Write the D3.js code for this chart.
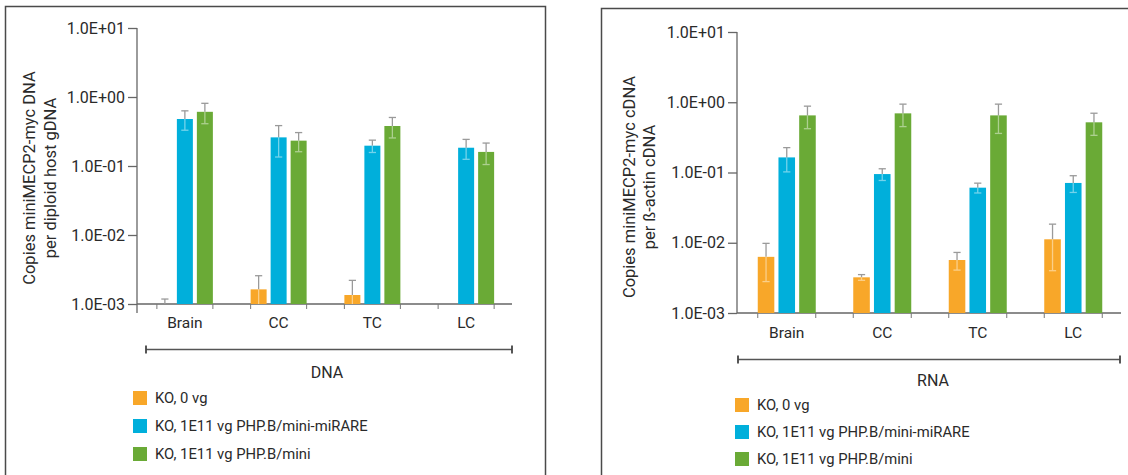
<!DOCTYPE html>
<html>
<head>
<meta charset="utf-8">
<script src="https://cdn.jsdelivr.net/npm/d3@7"></script>
<style>
  body { margin: 0; background: #fff; }
  svg { display: block; font-family: Roboto, "Open Sans", sans-serif; }
</style>
</head>
<body>
<svg width="1128" height="475"></svg>
<script>
const categories = ["Brain", "CC", "TC", "LC"];
const seriesNames = ["KO, 0 vg", "KO, 1E11 vg PHP.B/mini-miRARE", "KO, 1E11 vg PHP.B/mini"];
const seriesColors = ["#f8a729", "#00afdb", "#6aaa36"];
const yTicks = [1e-3, 1e-2, 1e-1, 1e0, 1e1];
const yTickLabels = ["1.0E-03", "1.0E-02", "1.0E-01", "1.0E+00", "1.0E+01"];

// DNA panel (mean, sd) - null = no bar
const dnaKO = [0.0007, 0.00163, 0.00135, null];
const dnaKOsd = [0.00048, 0.00094, 0.00085, null];
const dnaMiRARE = [0.48, 0.26, 0.197, 0.184];
const dnaMiRAREsd = [0.15, 0.125, 0.04, 0.059];
const dnaMini = [0.61, 0.233, 0.38, 0.16];
const dnaMinisd = [0.2, 0.072, 0.125, 0.055];

// RNA panel
const rnaKO = [0.0063, 0.00322, 0.00568, 0.0112];
const rnaKOsd = [0.0035, 0.0003, 0.0016, 0.0072];
const rnaMiRARE = [0.164, 0.095, 0.0608, 0.071];
const rnaMiRAREsd = [0.062, 0.018, 0.0097, 0.019];
const rnaMini = [0.65, 0.695, 0.65, 0.518];
const rnaMinisd = [0.23, 0.245, 0.29, 0.18];

const svg = d3.select("svg");
const textCol = "#2a2a2a";

const panels = [
  {
    box: [5.5, 6.5], yAxisX: 137, yRange: [304, 28], xRange: [138, 513], axisEnd: 512,
    groupW: 56, axisExtend: 9, catY: 328,
    title: ["Copies miniMECP2-myc DNA", "per diploid host gDNA"], titleX: [29, 50], titleY: 178,
    bracket: [146, 512, 349.5], groupLabel: "DNA", groupLabelPos: [327, 378],
    legend: [133, 398, 28],
    values: [dnaKO, dnaMiRARE, dnaMini], sds: [dnaKOsd, dnaMiRAREsd, dnaMinisd]
  },
  {
    box: [601.5, 8.5], yAxisX: 737, yRange: [313, 32], xRange: [739, 1121], axisEnd: 1121,
    groupW: 58, axisExtend: 0, catY: 338,
    title: ["Copies miniMECP2-myc cDNA", "per ß-actin cDNA"], titleX: [629, 649], titleY: 187,
    bracket: [738, 1120, 359.5], groupLabel: "RNA", groupLabelPos: [933, 386],
    legend: [735, 405, 27],
    values: [rnaKO, rnaMiRARE, rnaMini], sds: [rnaKOsd, rnaMiRAREsd, rnaMinisd]
  }
];

panels.forEach(drawPanel);

function drawPanel(p) {
  const g = svg.append("g");

  // frame (open at the bottom, runs off the picture)
  g.append("rect")
    .attr("x", p.box[0]).attr("y", p.box[1])
    .attr("width", 540).attr("height", 520)
    .attr("fill", "none").attr("stroke", "#4a4a4a").attr("stroke-width", 1.5);

  const y = d3.scaleLog().domain([1e-3, 1e1]).range(p.yRange);
  const x = d3.scaleBand().domain(categories).range(p.xRange);
  const xs = d3.scaleBand().domain(d3.range(3)).range([0, p.groupW]).paddingInner(0.2);
  const base = y(1e-3);
  const groupLeft = c => x(c) + (x.bandwidth() - p.groupW) / 2;

  // y axis
  const yAxis = d3.axisLeft(y)
    .tickValues(yTicks)
    .tickFormat((d, i) => yTickLabels[i])
    .tickSize(9).tickPadding(3).tickSizeOuter(0);
  const ya = g.append("g").attr("transform", `translate(${p.yAxisX},0)`).call(yAxis);
  ya.select(".domain").remove();
  ya.selectAll(".tick line").attr("stroke", "#666").attr("stroke-width", 1.3);
  ya.selectAll(".tick text").attr("fill", textCol).attr("font-size", 16)
    .attr("font-family", "Roboto, sans-serif");
  g.append("line")
    .attr("x1", p.yAxisX).attr("x2", p.yAxisX)
    .attr("y1", p.yRange[1]).attr("y2", base + p.axisExtend)
    .attr("stroke", "#666").attr("stroke-width", 1.3);

  // x axis line and group edge ticks
  g.append("line")
    .attr("x1", p.yAxisX).attr("x2", p.axisEnd)
    .attr("y1", base).attr("y2", base)
    .attr("stroke", "#666").attr("stroke-width", 1.3);
  categories.forEach(c => {
    [groupLeft(c), groupLeft(c) + p.groupW].forEach(tx => {
      g.append("line")
        .attr("x1", tx).attr("x2", tx).attr("y1", base).attr("y2", base + 5)
        .attr("stroke", "#777").attr("stroke-width", 1);
    });
    g.append("text")
      .attr("x", x(c) + x.bandwidth() / 2).attr("y", p.catY)
      .attr("text-anchor", "middle").attr("font-size", 15.5)
      .attr("fill", textCol).text(c);
  });

  // bars
  p.values.forEach((vals, si) => {
    const col = seriesColors[si];
    const light = d3.interpolateRgb(col, "#ffffff")(0.45);
    vals.forEach((v, ci) => {
      if (v == null) return;
      const sd = p.sds[si][ci];
      const bx = groupLeft(categories[ci]) + xs(si);
      const cx = bx + xs.bandwidth() / 2;
      const vTop = Math.max(v, 1e-3);
      if (v > 1e-3) {
        g.append("rect")
          .attr("x", bx).attr("y", y(v))
          .attr("width", xs.bandwidth()).attr("height", base - y(v))
          .attr("fill", col);
      }
      // upper error bar (grey)
      const hi = v + sd;
      g.append("line").attr("x1", cx).attr("x2", cx).attr("y1", y(vTop)).attr("y2", y(hi))
        .attr("stroke", "#9a9a9a").attr("stroke-width", 1.3);
      g.append("line").attr("x1", cx - 3.6).attr("x2", cx + 3.6).attr("y1", y(hi)).attr("y2", y(hi))
        .attr("stroke", "#9a9a9a").attr("stroke-width", 1.3);
      // lower error bar inside the bar (light tint)
      const lo = v - sd;
      if (v > 1e-3) {
        const loC = Math.max(lo, 1e-3);
        g.append("line").attr("x1", cx).attr("x2", cx).attr("y1", y(v)).attr("y2", y(loC))
          .attr("stroke", light).attr("stroke-width", 1.3);
        if (lo > 1e-3) {
          g.append("line").attr("x1", cx - 3.6).attr("x2", cx + 3.6).attr("y1", y(lo)).attr("y2", y(lo))
            .attr("stroke", light).attr("stroke-width", 1.3);
        }
      }
    });
  });

  // y title
  p.title.forEach((t, i) => {
    g.append("text")
      .attr("transform", `translate(${p.titleX[i]},${p.titleY}) rotate(-90)`)
      .attr("text-anchor", "middle").attr("dominant-baseline", "central")
      .attr("font-size", 16.5).attr("fill", textCol)
      .text(t);
  });

  // group bracket
  const [bx0, bx1, by] = p.bracket;
  g.append("line").attr("x1", bx0).attr("x2", bx1).attr("y1", by).attr("y2", by)
    .attr("stroke", "#555").attr("stroke-width", 1.3);
  [bx0, bx1].forEach(bx => {
    g.append("line").attr("x1", bx).attr("x2", bx).attr("y1", by - 4).attr("y2", by + 4)
      .attr("stroke", "#444").attr("stroke-width", 1.8);
  });
  g.append("text")
    .attr("x", p.groupLabelPos[0]).attr("y", p.groupLabelPos[1])
    .attr("text-anchor", "middle").attr("font-size", 16)
    .attr("fill", textCol).text(p.groupLabel);

  // legend
  const [lx, ly, lstep] = p.legend;
  const leg = g.selectAll("g.leg").data(seriesNames).enter().append("g")
    .attr("class", "leg")
    .attr("transform", (d, i) => `translate(${lx},${ly + i * lstep})`);
  leg.append("rect").attr("x", 0).attr("y", -7).attr("width", 14).attr("height", 14)
    .attr("fill", (d, i) => seriesColors[i]);
  leg.append("text").attr("x", 22).attr("y", 0).attr("dominant-baseline", "central")
    .attr("font-size", 14.8).attr("fill", textCol).text(d => d);
}
</script>
</body>
</html>
